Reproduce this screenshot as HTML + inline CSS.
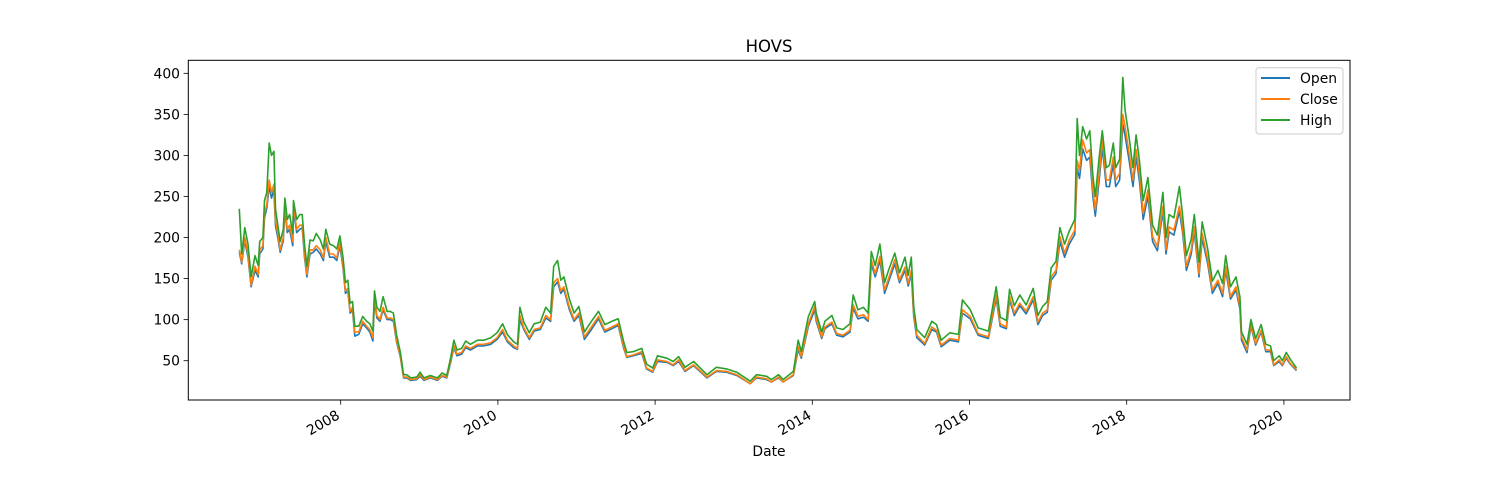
<!DOCTYPE html>
<html><head><meta charset="utf-8"><style>
html,body{margin:0;padding:0;background:#fff;}
svg{display:block;font-family:"DejaVu Sans","Liberation Sans",sans-serif;}
</style></head><body>
<svg id="chart" width="1500" height="500" viewBox="0 0 1500 500">
<rect x="0" y="0" width="1500" height="500" fill="#fff"/>
<text x="769" y="52" text-anchor="middle" font-size="16.5" fill="#000">HOVS</text>
<g id="series"></g>
<rect x="188.3" y="60.3" width="1161.7" height="339.7" fill="none" stroke="#000" stroke-width="1"/>
<g id="yaxis"></g>
<g id="xaxis"></g>
<text x="769" y="456" text-anchor="middle" font-size="13.9">Date</text>
<g>
<rect x="1256" y="67.7" width="87" height="66.3" rx="3" fill="#fff" fill-opacity="0.8" stroke="#ccc"/>
<line x1="1261" y1="78" x2="1290" y2="78" stroke="#1f77b4" stroke-width="2"/>
<text x="1300" y="83" font-size="13.9">Open</text>
<line x1="1261" y1="99" x2="1290" y2="99" stroke="#ff7f0e" stroke-width="2"/>
<text x="1300" y="104" font-size="13.9">Close</text>
<line x1="1261" y1="120" x2="1290" y2="120" stroke="#2ca02c" stroke-width="2"/>
<text x="1300" y="125" font-size="13.9">High</text>
</g>
</svg>
<script>
const dates = [2006.71,2006.74,2006.78,2006.82,2006.86,2006.91,2006.95,2006.97,2007.01,2007.03,2007.06,2007.09,2007.12,2007.15,2007.17,2007.20,2007.23,2007.27,2007.29,2007.32,2007.35,2007.39,2007.40,2007.44,2007.48,2007.51,2007.54,2007.57,2007.61,2007.65,2007.69,2007.74,2007.78,2007.81,2007.86,2007.91,2007.95,2007.99,2008.03,2008.06,2008.09,2008.12,2008.15,2008.18,2008.23,2008.28,2008.33,2008.37,2008.41,2008.43,2008.46,2008.50,2008.54,2008.59,2008.63,2008.67,2008.71,2008.76,2008.80,2008.84,2008.89,2008.97,2009.01,2009.06,2009.14,2009.23,2009.29,2009.35,2009.40,2009.44,2009.48,2009.54,2009.59,2009.65,2009.74,2009.82,2009.91,2009.99,2010.06,2010.12,2010.20,2010.25,2010.28,2010.33,2010.40,2010.46,2010.54,2010.61,2010.67,2010.71,2010.76,2010.80,2010.84,2010.91,2010.97,2011.03,2011.10,2011.19,2011.28,2011.36,2011.45,2011.53,2011.60,2011.64,2011.72,2011.83,2011.89,2011.97,2012.03,2012.15,2012.23,2012.30,2012.38,2012.49,2012.66,2012.78,2012.91,2013.04,2013.21,2013.29,2013.42,2013.48,2013.57,2013.63,2013.76,2013.82,2013.86,2013.95,2014.03,2014.05,2014.12,2014.16,2014.25,2014.31,2014.39,2014.48,2014.52,2014.58,2014.65,2014.71,2014.75,2014.80,2014.86,2014.92,2014.97,2015.05,2015.11,2015.18,2015.22,2015.26,2015.29,2015.33,2015.43,2015.52,2015.58,2015.64,2015.75,2015.86,2015.91,2016.01,2016.11,2016.24,2016.34,2016.39,2016.47,2016.51,2016.57,2016.64,2016.72,2016.81,2016.87,2016.93,2016.99,2017.04,2017.10,2017.15,2017.21,2017.27,2017.34,2017.37,2017.40,2017.44,2017.49,2017.53,2017.57,2017.60,2017.65,2017.69,2017.74,2017.78,2017.83,2017.86,2017.91,2017.95,2017.98,2018.03,2018.08,2018.12,2018.16,2018.21,2018.27,2018.33,2018.39,2018.46,2018.50,2018.54,2018.60,2018.67,2018.71,2018.76,2018.82,2018.86,2018.92,2018.96,2019.03,2019.09,2019.16,2019.22,2019.26,2019.32,2019.39,2019.44,2019.46,2019.53,2019.58,2019.64,2019.71,2019.77,2019.83,2019.87,2019.94,2019.98,2020.03,2020.08,2020.16];
const closeVals = [185,170,200,180,142,165,155,185,190,230,240,270,255,265,220,205,185,200,240,210,215,195,240,210,215,215,180,155,185,185,190,185,175,200,180,180,175,195,165,135,138,110,115,85,85,98,92,88,78,130,105,100,115,102,102,100,75,55,30,30,27,28,33,27,30,27,32,30,50,68,58,60,68,65,70,70,72,78,88,75,68,65,105,90,78,88,90,105,100,145,150,135,140,115,100,108,79,91,104,87,91,95,67,55,57,61,41,37,51,49,45,51,38,45,30,38,37,33,22,30,28,24,30,24,33,67,55,95,116,101,79,91,97,83,81,87,118,104,106,100,173,156,177,136,150,173,148,164,144,160,108,81,71,91,87,69,77,75,112,104,83,79,130,95,91,128,108,120,110,128,97,108,112,152,160,201,181,197,209,294,282,319,303,307,258,234,278,319,270,270,298,270,278,350,335,303,270,307,278,229,258,201,189,238,185,213,209,238,213,165,185,213,156,205,173,136,148,132,165,128,140,116,79,63,95,71,87,63,63,45,51,45,55,47,39];
const openVals = [182,168,196,176,140,160,152,180,186,224,236,262,248,258,214,200,182,196,234,206,210,190,234,206,210,212,176,152,180,182,186,180,172,195,176,176,172,190,162,132,135,108,112,80,82,95,90,85,74,124,102,98,112,100,100,98,73,54,29,29,26,27,31,26,29,26,31,29,48,66,56,58,66,63,68,68,70,76,85,73,66,64,100,88,76,86,88,102,98,140,146,132,137,112,98,105,76,88,101,85,89,93,65,54,56,59,40,36,49,48,44,49,37,44,29,37,36,32,22,29,27,24,29,24,32,64,53,92,112,98,77,89,95,81,79,85,114,101,103,98,168,152,172,132,146,168,145,160,141,156,104,78,69,88,85,67,75,73,108,101,81,77,126,92,89,124,105,117,107,124,94,105,109,148,156,195,176,192,204,284,272,308,294,298,250,226,270,310,262,262,290,262,270,338,324,294,262,298,270,222,250,195,184,232,180,207,203,232,207,160,180,207,152,199,168,132,144,128,160,125,136,113,75,60,92,69,85,61,61,44,49,44,53,46,38];
const highVals = [235,180,212,192,152,178,166,195,200,245,255,315,300,305,235,215,195,210,248,222,228,205,245,222,228,228,192,165,197,196,205,197,186,210,192,190,186,202,175,145,148,120,122,92,92,104,98,95,86,135,115,110,128,110,110,108,82,60,33,33,29,30,36,29,32,29,35,32,54,75,63,65,74,70,75,75,78,84,95,82,73,70,115,97,84,95,97,115,108,165,172,148,152,125,108,116,85,98,110,94,98,101,73,60,61,65,46,41,56,53,49,55,42,49,33,42,40,36,25,33,31,27,33,27,37,75,61,104,122,108,85,98,105,90,88,95,130,112,115,108,183,166,192,145,160,181,157,176,154,176,116,88,78,98,94,75,84,82,124,112,90,86,140,103,99,137,117,130,118,138,105,116,122,163,171,212,192,208,222,345,300,335,320,330,275,250,298,330,285,288,315,285,295,395,355,322,285,325,295,245,273,215,203,255,200,228,224,262,228,178,198,228,170,219,186,147,160,144,178,140,152,128,85,70,100,77,94,70,68,50,56,50,60,52,41];
const yTicks = [50,100,150,200,250,300,350,400];
const xTicks = [2008,2010,2012,2014,2016,2018,2020];

const NS = 'http://www.w3.org/2000/svg';
function xScale(t){ return 340.7 + (t - 2008) * 78.6; }
function yScale(v){ return 360.7 - (v - 50) * 0.8211; }
function mk(tag, attrs){ const e = document.createElementNS(NS, tag); for (const k in attrs) e.setAttribute(k, attrs[k]); return e; }

const series = document.getElementById('series');
function drawLine(vals, color, name){
  const d = vals.map((v,i)=>(i?'L':'M')+xScale(dates[i]).toFixed(1)+','+yScale(v).toFixed(1)).join('');
  const p = mk('path', {d:d, fill:'none', stroke:color, 'stroke-width':'1.6', 'stroke-linejoin':'round'});
  
  
  series.appendChild(p);
}
drawLine(openVals, '#1f77b4', 'open-line');
drawLine(closeVals, '#ff7f0e', 'close-line');
drawLine(highVals, '#2ca02c', 'high-line');

const ya = document.getElementById('yaxis');
yTicks.forEach(v=>{
  const y = yScale(v);
  const l = mk('line', {x1:183.6, x2:188.3, y1:y, y2:y, stroke:'#000', 'stroke-width':'0.8'});
  
  
  ya.appendChild(l);
  const t = mk('text', {x:180, y:y+5, 'text-anchor':'end', 'font-size':'13.9'});
  t.textContent = v;
  
  
  ya.appendChild(t);
});
const xa = document.getElementById('xaxis');
xTicks.forEach(v=>{
  const x = xScale(v);
  const l = mk('line', {x1:x, x2:x, y1:400, y2:404.7, stroke:'#000', 'stroke-width':'0.8'});
  
  
  xa.appendChild(l);
  const tx = x, ty = 418;
  const t = mk('text', {x:tx, y:ty, 'text-anchor':'end', 'font-size':'13.9', transform:'rotate(-30 '+tx+' '+ty+')'});
  t.textContent = v;
  
  
  xa.appendChild(t);
});
</script>
</body></html>
